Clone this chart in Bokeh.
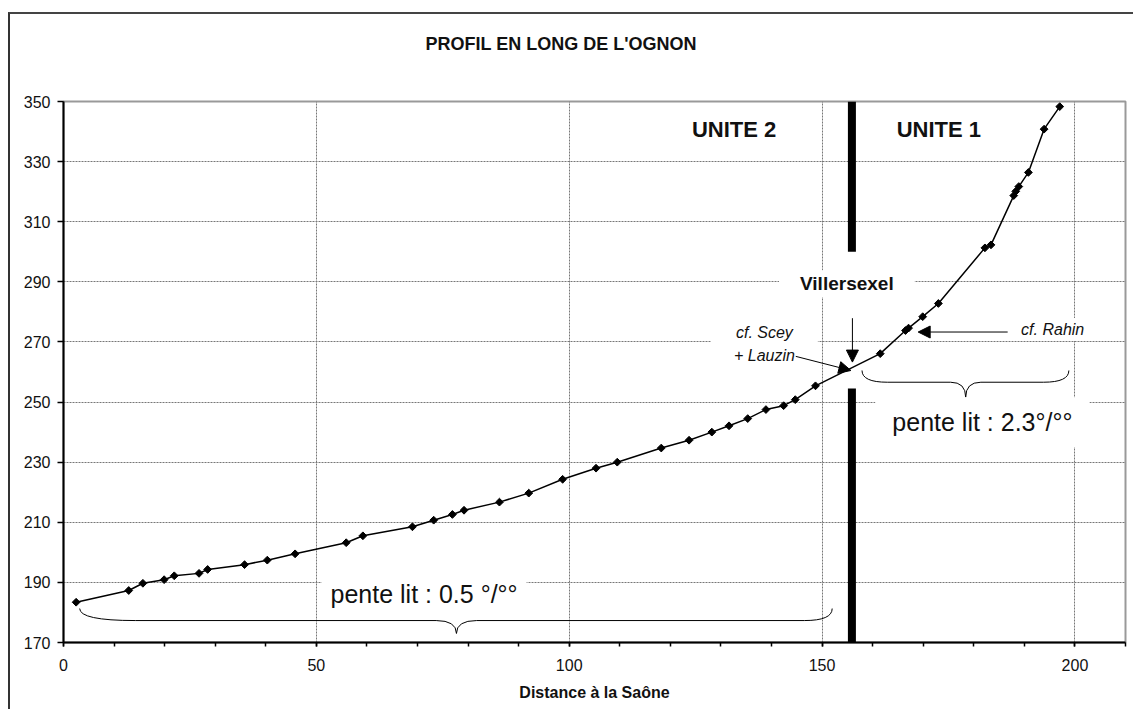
import numpy as np
from bokeh.plotting import figure
from bokeh.models import Range1d, FixedTicker, Label, Arrow, NormalHead, Title
from bokeh.embed import file_html
from bokeh.resources import INLINE

# ---------------- data ----------------
distance_km = [2.5, 12.9, 15.7, 19.9, 21.9, 26.8, 28.5, 35.8, 40.3, 45.8,
               55.9, 59.2, 69.0, 73.2, 76.9, 79.2, 86.2, 92.0, 98.7, 105.3,
               109.5, 118.2, 123.7, 128.2, 131.6, 135.3, 138.9, 142.4, 144.7, 148.7,
               161.5, 166.5, 167.1, 169.9, 173.0, 182.2, 183.4, 187.9, 188.3, 188.9,
               190.8, 193.9, 197.0]
altitude_m = [183.4, 187.3, 189.7, 190.9, 192.2, 193.0, 194.3, 195.9, 197.4, 199.5,
              203.2, 205.5, 208.5, 210.7, 212.6, 214.0, 216.7, 219.7, 224.3, 228.0,
              230.0, 234.7, 237.3, 240.0, 242.1, 244.5, 247.5, 248.8, 250.8, 255.4,
              266.1, 273.8, 274.6, 278.4, 282.8, 301.3, 302.3, 318.7, 320.1, 321.7,
              326.4, 340.8, 348.3]

x_ticks = [0, 50, 100, 150, 200]
x_minor_ticks = list(range(0, 211, 10))
y_ticks = list(range(170, 351, 20))

unit_boundary_km = 155.9
title_text = "PROFIL EN LONG  DE L'OGNON"
x_label = "Distance à la Saône"

FONT = "Liberation Sans"

p = figure(width=1125, height=697,
           x_range=Range1d(0, 210), y_range=Range1d(170, 350),
           output_backend="svg", toolbar_location=None,
           min_border_left=53, min_border_right=10,
           min_border_top=87, min_border_bottom=69)
p.styles = {"margin-top": "12px", "margin-left": "8px",
            "border-top": "2px solid #444", "border-left": "2px solid #333"}

p.background_fill_color = "white"
p.border_fill_color = "white"
p.outline_line_color = "#999999"
p.outline_line_width = 2

# title: spacer panel next to the frame, then the real title above it
p.title.text = ""
p.title.standoff = 0
p.add_layout(Title(text=" ", text_font_size="1px", standoff=45), "above")
p.add_layout(Title(text=title_text, align="left", offset=362, standoff=0,
                   vertical_align="bottom", text_font=FONT,
                   text_font_size="18px", text_font_style="bold",
                   text_color="#111111"), "above")

# axes
xt = FixedTicker(ticks=x_ticks, minor_ticks=x_minor_ticks)
yt = FixedTicker(ticks=y_ticks, minor_ticks=[])
p.xaxis.ticker = xt
p.yaxis.ticker = yt
for ax in (p.xaxis[0], p.yaxis[0]):
    ax.axis_line_color = "black"
    ax.axis_line_width = 2
    ax.major_tick_line_color = "black"
    ax.major_tick_line_width = 1.5
    ax.major_tick_in = 0
    ax.minor_tick_in = 0
    ax.major_label_text_font = FONT
    ax.major_label_text_font_size = "16px"
    ax.major_label_text_color = "#111111"
p.xaxis.major_tick_out = 4
p.xaxis.minor_tick_out = 4
p.xaxis.minor_tick_line_color = "black"
p.xaxis.minor_tick_line_width = 1.5
p.xaxis.major_label_standoff = 12
p.xaxis.axis_label = x_label
p.xaxis.axis_label_text_font = FONT
p.xaxis.axis_label_text_font_size = "16px"
p.xaxis.axis_label_text_font_style = "bold"
p.xaxis.axis_label_text_color = "#111111"
p.xaxis.axis_label_standoff = 10
p.yaxis.major_tick_out = 6
p.yaxis.minor_tick_line_color = None
p.yaxis.major_label_standoff = 7

# grids
p.xgrid.ticker = xt
p.ygrid.ticker = yt
for g in (p.xgrid[0], p.ygrid[0]):
    g.grid_line_color = "#777777"
    g.grid_line_width = 1
    g.grid_line_dash = "2 1"

# unit boundary bar (Villersexel)
p.segment(x0=[unit_boundary_km, unit_boundary_km], y0=[300, 170],
          x1=[unit_boundary_km, unit_boundary_km], y1=[350, 254.5],
          line_color="black", line_width=8, line_cap="butt")

# braces
def draw_brace(x0, x1, xc, y_end, y_flat, y_tip, r0, r1, rt):
    p.quadratic(x0=[x0, xc - rt, xc, x1 - r1],
                y0=[y_end, y_flat, y_tip, y_flat],
                x1=[x0 + r0, xc, xc + rt, x1],
                y1=[y_flat, y_tip, y_flat, y_end],
                cx=[x0, xc, xc, x1],
                cy=[y_flat, y_flat, y_flat, y_flat],
                line_color="black", line_width=1)
    p.segment(x0=[x0 + r0, xc + rt], y0=[y_flat, y_flat],
              x1=[xc - rt, x1 - r1], y1=[y_flat, y_flat],
              line_color="black", line_width=1)

draw_brace(3.2, 152.0, 77.7, 181.3, 177.3, 173.0, 11, 5.5, 4)
draw_brace(157.9, 198.8, 178.4, 260.5, 256.6, 251.6, 5, 5, 3)

# profile
p.line(distance_km, altitude_m, line_color="black", line_width=1.5)
p.scatter(distance_km, altitude_m, marker="square", angle=np.pi / 4, size=5.5,
          fill_color="black", line_color="black")

# labels
def lab(x, y, text, size, style="normal", pad=None, bg=None, lh=1.2):
    kw = {}
    if bg:
        kw["background_fill_color"] = bg
    if pad:
        kw["padding"] = dict(left=pad[0], right=pad[1], top=pad[2], bottom=pad[3])
    p.add_layout(Label(x=x, y=y, text=text, text_align="center",
                       text_baseline="middle", text_font=FONT,
                       text_font_size=size, text_font_style=style,
                       text_color="#111111", text_line_height=lh, **kw))

lab(132.6, 340.6, "UNITE 2", "22px", "bold")
lab(173.1, 340.6, "UNITE 1", "22px", "bold")
lab(154.9, 289.4, "Villersexel", "19px", "bold", pad=(21, 21, 3, 3), bg="white")
lab(138.6, 269.4, "cf. Scey\n+ Lauzin", "16px", "italic", pad=(23, 23, 2, 2), bg="white", lh=1.33)
lab(195.8, 274.1, "cf. Rahin", "16px", "italic", pad=(21, 23, 3, 3), bg="white")
lab(181.7, 243.3, "pente lit : 2.3°/°°", "25px", "normal", pad=(17, 17, 11, 11), bg="white")
lab(71.3, 186.8, "pente lit : 0.5 °/°°", "25px", "normal", pad=(9, 9, 8, 4), bg="white")

# arrows
def arr(xs, ys, xe, ye):
    p.add_layout(Arrow(end=NormalHead(size=12, fill_color="black", line_color="black"),
                       x_start=xs, y_start=ys, x_end=xe, y_end=ye,
                       line_color="black", line_width=1))

arr(156.0, 277.9, 156.0, 263.3)
arr(144.8, 265.2, 155.7, 260.5)
arr(186.7, 273.3, 169.0, 273.3)

open("out.html", "w").write(file_html(p, INLINE))
